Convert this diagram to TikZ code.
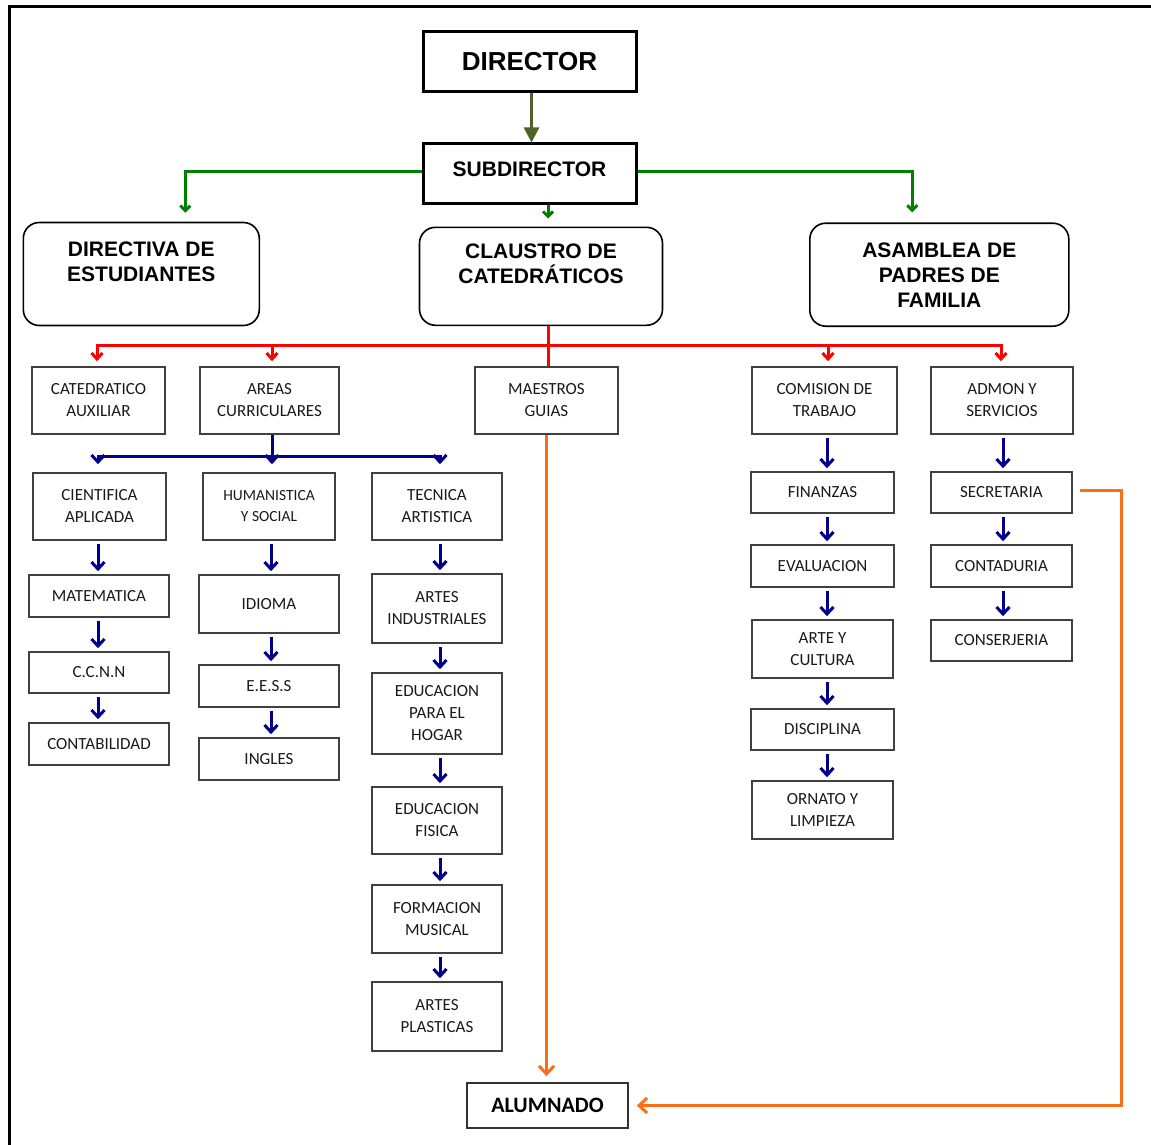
\documentclass[tikz,border=0pt]{standalone}
\usepackage{fontspec}
\setmainfont{Carlito}
\newfontfamily\arialfont{Liberation Sans}
\usetikzlibrary{arrows.meta}
\definecolor{rd}{RGB}{255,0,0}
\definecolor{nv}{RGB}{0,0,140}
\definecolor{gr}{RGB}{0,128,0}
\definecolor{ol}{RGB}{79,98,40}
\definecolor{orng}{RGB}{250,110,20}
\begin{document}
\begin{tikzpicture}[x=1pt,y=-1pt,
  sz/.style 2 args={minimum width=#1pt,minimum height=#2pt},
  topbox/.style={draw, line width=3pt, inner sep=0pt},
  rbox/.style={draw, line width=1.6pt, rounded corners=16pt, inner sep=0pt, align=center,
    font=\arialfont\bfseries\fontsize{21}{25}\selectfont},
  sbox/.style={draw=black!75, line width=1.6pt, inner sep=0pt, align=center, text=black!90,
    font=\fontsize{17}{22}\selectfont},
  albox/.style={draw=black!80, line width=1.8pt, inner sep=0pt, font=\bfseries\fontsize{22}{26}\selectfont},
  rarr/.style={draw=rd, line width=3pt, -{Straight Barb[length=6pt,width=11pt]}},
  barr/.style={draw=nv, line width=3pt, -{Straight Barb[length=7pt,width=13pt]}},
  garr/.style={draw=gr, line width=3pt, -{Straight Barb[length=5pt,width=10pt]}},
  oarr/.style={draw=orng, line width=3pt, -{Straight Barb[length=8pt,width=15pt]}},
  bline/.style={draw=nv, line width=3pt},
  rline/.style={draw=rd, line width=3pt},
]
\useasboundingbox (0,0) rectangle (1151,1145);
% frame
\draw[line width=3pt] (1151,7) -- (9,7) -- (9,1145);

% top level
\node[topbox, sz={213}{60}, font=\arialfont\bfseries\fontsize{26}{30}\selectfont] (dir) at (529.5,61.5) {DIRECTOR};
\node[topbox, sz={213}{59}, font=\arialfont\bfseries\fontsize{21}{25}\selectfont] (sub) at (529.5,173.5) {\raisebox{4pt}[\height][\depth]{SUBDIRECTOR}};

\node[rbox, sz={236}{103}] (dirEst) at (141.3,274) {DIRECTIVA DE\\ESTUDIANTES\\~};
\node[rbox, sz={243}{98}] (claus) at (541,276.3) {CLAUSTRO DE\\CATEDR\'ATICOS\\~};
\node[rbox, sz={259}{103}] (asam) at (939.3,274.7) {ASAMBLEA DE\\PADRES DE\\FAMILIA};

% level 1
\node[sbox, sz={133}{67}] (cat) at (98.5,400.5) {CATEDRATICO\\AUXILIAR};
\node[sbox, sz={139}{67}] (areas) at (269.5,400.5) {AREAS\\CURRICULARES};
\node[sbox, sz={143}{67}] (maes) at (546.5,400.5) {MAESTROS\\GUIAS};
\node[sbox, sz={145}{67}] (com) at (824.5,400.5) {COMISION DE\\TRABAJO};
\node[sbox, sz={142}{67}] (adm) at (1002,400.5) {ADMON Y\\SERVICIOS};

% areas
\node[sbox, sz={133}{67}] (cien) at (99.5,506.5) {CIENTIFICA\\APLICADA};
\node[sbox, sz={132}{67}, font=\fontsize{15.5}{21}\selectfont] (hum) at (269,506.5) {HUMANISTICA\\Y SOCIAL};
\node[sbox, sz={130}{67}] (tec) at (437,506.5) {TECNICA\\ARTISTICA};

\node[sbox, sz={140}{42}] (mat) at (99,596) {MATEMATICA};
\node[sbox, sz={140}{41}] (ccnn) at (99,672.5) {C.C.N.N};
\node[sbox, sz={140}{42}] (cont) at (99,744) {CONTABILIDAD};

\node[sbox, sz={140}{58}] (idi) at (269,604) {IDIOMA};
\node[sbox, sz={140}{42}] (eess) at (269,686) {E.E.S.S};
\node[sbox, sz={140}{42}] (ing) at (269,759) {INGLES};

\node[sbox, sz={130}{69}] (artind) at (437,608.5) {ARTES\\INDUSTRIALES};
\node[sbox, sz={130}{81}] (eduhog) at (437,713.5) {EDUCACION\\PARA EL\\HOGAR};
\node[sbox, sz={130}{67}] (edufis) at (437,820.5) {EDUCACION\\FISICA};
\node[sbox, sz={130}{68}] (formus) at (437,919) {FORMACION\\MUSICAL};
\node[sbox, sz={130}{69}] (artpla) at (437,1016.5) {ARTES\\PLASTICAS};

% right side
\node[sbox, sz={143}{41}] (fin) at (822.5,492.5) {FINANZAS};
\node[sbox, sz={143}{42}] (eva) at (822.5,566) {EVALUACION};
\node[sbox, sz={141}{58}] (arte) at (822.5,649) {ARTE Y\\CULTURA};
\node[sbox, sz={143}{41}] (disc) at (822.5,729.5) {DISCIPLINA};
\node[sbox, sz={141}{58}] (orn) at (822.5,810) {ORNATO Y\\LIMPIEZA};

\node[sbox, sz={141}{41}] (sec) at (1001.5,492.5) {SECRETARIA};
\node[sbox, sz={141}{42}] (conta) at (1001.5,566) {CONTADURIA};
\node[sbox, sz={141}{41}] (conse) at (1001.5,640.5) {CONSERJERIA};

\node[albox, sz={161}{45}] (alum) at (547.5,1105.5) {ALUMNADO};

% director -> subdirector
\draw[draw=ol, line width=2.8pt, -{Triangle[length=15pt,width=15pt]}] ([xshift=2pt]dir.south) -- ([xshift=2pt]sub.north);

% green
\draw[garr, shorten >=9pt] ([yshift=2.5pt]sub.west) -| ([xshift=44pt]dirEst.north);
\draw[garr, shorten >=10pt] ([yshift=2.5pt]sub.east) -| ([xshift=-27pt]asam.north);
\draw[garr, shorten >=8pt] ([xshift=7pt]claus.north |- sub.south) -- ([xshift=7pt]claus.north);

% red
\coordinate (rbus) at (548,345);
\draw[rline] ([xshift=7pt]claus.south) -- (maes.north -| rbus);
\draw[rarr, shorten >=5pt] (rbus) -| ([xshift=-1.5pt]cat.north);
\draw[rarr, shorten >=5pt] (rbus) -| ([xshift=2.5pt]areas.north);
\draw[rarr, shorten >=5pt] (rbus) -| ([xshift=3.5pt]com.north);
\draw[rarr, shorten >=5pt] (rbus) -| ([xshift=-1pt]adm.north);

% blue bus
\coordinate (bbus) at (272,456);
\draw[bline] ([xshift=2.5pt]areas.south) -- (bbus);
\draw[barr, shorten >=8pt] (bbus) -| ([xshift=-1.5pt]cien.north);
\draw[barr, shorten >=8pt] (bbus) -| ([xshift=3pt]hum.north);
\draw[barr, shorten >=8pt] (bbus) -| ([xshift=3pt]tec.north);

% blue chains
\tikzset{ch/.style={barr, shorten <=3pt, shorten >=3pt}}
\draw[ch] ([xshift=-1.5pt]cien.south) -- ([xshift=-1.5pt]cien.south |- mat.north);
\draw[ch] ([xshift=-1pt]mat.south) -- ([xshift=-1pt]mat.south |- ccnn.north);
\draw[ch] ([xshift=-1pt]ccnn.south) -- ([xshift=-1pt]ccnn.south |- cont.north);

\draw[ch] ([xshift=2pt]hum.south) -- ([xshift=2pt]hum.south |- idi.north);
\draw[ch] ([xshift=2pt]idi.south) -- ([xshift=2pt]idi.south |- eess.north);
\draw[ch] ([xshift=2pt]eess.south) -- ([xshift=2pt]eess.south |- ing.north);

\draw[ch] ([xshift=3pt]tec.south) -- ([xshift=3pt]tec.south |- artind.north);
\draw[ch] ([xshift=3pt]artind.south) -- ([xshift=3pt]artind.south |- eduhog.north);
\draw[ch] ([xshift=3pt]eduhog.south) -- ([xshift=3pt]eduhog.south |- edufis.north);
\draw[ch] ([xshift=3pt]edufis.south) -- ([xshift=3pt]edufis.south |- formus.north);
\draw[ch] ([xshift=3pt]formus.south) -- ([xshift=3pt]formus.south |- artpla.north);

\draw[ch] ([xshift=4.5pt]com.south -| fin.north) -- ([xshift=4.5pt]fin.north);
\draw[ch] ([xshift=4.5pt]fin.south) -- ([xshift=4.5pt]eva.north);
\draw[ch] ([xshift=4.5pt]eva.south) -- ([xshift=4.5pt]arte.north);
\draw[ch] ([xshift=4.5pt]arte.south) -- ([xshift=4.5pt]disc.north);
\draw[ch] ([xshift=4.5pt]disc.south) -- ([xshift=4.5pt]orn.north);

\draw[ch] ([xshift=1.5pt]adm.south -| sec.north) -- ([xshift=1.5pt]sec.north);
\draw[ch] ([xshift=1.5pt]sec.south) -- ([xshift=1.5pt]conta.north);
\draw[ch] ([xshift=1.5pt]conta.south) -- ([xshift=1.5pt]conse.north);

% orange
\coordinate (ocorner) at (1121,1105.5);
\draw[oarr, shorten >=6pt] (maes.south) -- (maes.south |- alum.north);
\draw[oarr, shorten >=8pt] ([xshift=7pt,yshift=2.5pt]sec.east) -| (ocorner) -- (alum.east);
\end{tikzpicture}
\end{document}
